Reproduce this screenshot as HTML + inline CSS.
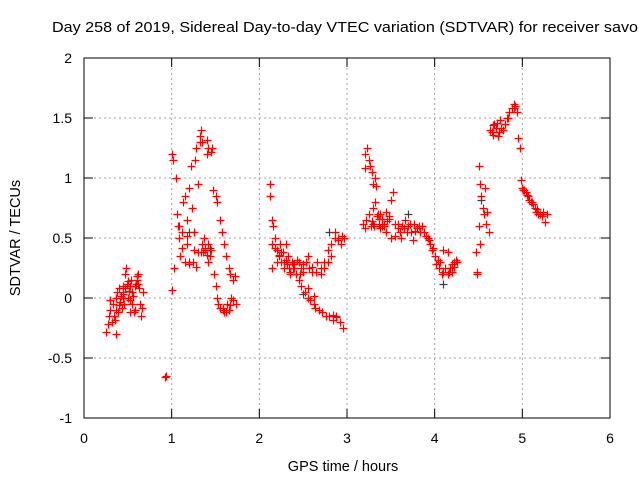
<!DOCTYPE html>
<html><head><meta charset="utf-8"><style>
body{margin:0;background:#fff;}
svg{display:block;font-family:"Liberation Sans",sans-serif;}
</style></head><body>
<svg id="chart" width="640" height="480">
<text x="52" y="32" font-size="15" textLength="586" lengthAdjust="spacingAndGlyphs">Day 258 of 2019, Sidereal Day-to-day VTEC variation (SDTVAR) for receiver savo</text>
<text x="343" y="471" font-size="14.5" text-anchor="middle">GPS time / hours</text>
<text x="0" y="0" font-size="14.5" text-anchor="middle" transform="translate(20,238) rotate(-90)">SDTVAR / TECUs</text>
<g id="grid"></g>
<g id="ticks"></g>
<g id="pts-gray"></g>
<g id="pts"></g>
<rect x="84" y="58" width="526" height="360" fill="none" stroke="#000" stroke-width="1"/>
</svg>
<script>
const xTicks=[0,1,2,3,4,5,6];
const yTicks=[-1,-0.5,0,0.5,1,1.5,2];
const yTickLabels=["-1","-0.5","0","0.5","1","1.5","2"];
const hours=[0.25,0.27,0.28,0.30,0.30,0.32,0.33,0.35,0.36,0.37,0.38,0.39,0.40,0.41,0.42,0.43,0.44,0.45,0.46,0.47,0.48,0.49,0.50,0.51,0.52,0.53,0.54,0.55,0.56,0.57,0.58,0.59,0.60,0.61,0.62,0.63,0.64,0.65,0.66,0.67,0.34,0.44,0.52,0.58,0.40,0.47,0.55,0.62,0.36,0.50,
0.92,0.93,
1.00,1.02,1.00,1.03,1.05,1.06,1.07,1.08,1.10,1.12,1.13,1.15,1.15,1.17,1.18,1.20,1.20,1.22,1.23,1.25,1.27,1.28,1.30,1.30,1.32,1.33,1.35,1.35,1.37,1.38,1.40,1.42,1.42,1.44,1.45,1.47,1.48,1.50,1.50,1.52,1.52,1.53,1.55,1.55,1.57,1.58,1.60,1.60,1.62,1.63,1.65,1.65,1.67,1.68,1.70,1.70,1.72,1.73,1.36,1.40,1.45,1.28,1.24,1.18,1.12,1.08,1.38,1.34,1.42,1.32,1.40,1.46,1.58,1.62,1.66,1.20,1.26,
2.12,2.12,2.14,2.16,2.15,2.18,2.20,2.22,2.24,2.25,2.27,2.28,2.30,2.32,2.33,2.35,2.37,2.38,2.40,2.42,2.43,2.45,2.47,2.48,2.50,2.52,2.53,2.55,2.57,2.58,2.60,2.62,2.64,2.66,2.68,2.70,2.72,2.74,2.76,2.78,2.80,2.82,2.84,2.86,2.88,2.90,2.92,2.94,2.96,2.97,2.15,2.20,2.25,2.30,2.35,2.45,2.55,2.78,2.82,2.86,2.90,2.93,2.18,2.22,2.28,2.34,2.40,2.50,2.60,2.65,2.70,2.74,2.62,2.56,2.46,2.38,2.88,2.84,
3.20,3.21,3.23,3.25,3.26,3.28,3.30,3.32,3.33,3.18,3.20,3.22,3.25,3.27,3.30,3.32,3.34,3.36,3.38,3.40,3.42,3.44,3.46,3.48,3.50,3.52,3.55,3.58,3.60,3.63,3.66,3.70,3.73,3.76,3.80,3.83,3.86,3.90,3.93,3.95,3.97,4.00,4.02,4.05,4.08,4.10,4.12,4.15,4.18,4.20,4.22,4.24,4.25,4.10,4.15,4.20,3.45,3.50,3.40,3.35,3.55,3.62,3.68,3.75,3.85,3.38,3.42,3.48,3.58,3.65,3.72,3.78,3.82,3.88,3.92,3.98,4.04,4.06,4.16,4.22,3.29,3.31,3.36,
4.47,4.48,4.50,4.50,4.52,4.53,4.55,4.56,4.58,4.60,4.62,4.48,4.52,4.57,4.63,4.65,4.68,4.70,4.72,4.75,4.78,4.80,4.82,4.85,4.88,4.90,4.92,4.94,4.95,4.97,4.98,5.00,5.02,5.04,5.06,5.08,5.10,5.12,5.14,5.16,5.18,5.20,5.22,5.24,5.26,5.28,4.67,4.73,4.66,4.71,4.76,4.84,4.91,5.01,5.05,5.11,5.17];
const values=[-0.28,-0.22,-0.15,-0.10,-0.02,-0.20,-0.05,-0.18,0.00,-0.30,0.05,-0.12,0.08,-0.03,0.02,-0.08,0.10,0.03,-0.05,0.20,0.25,0.12,0.00,0.06,-0.02,0.10,0.15,-0.05,0.02,-0.12,-0.10,0.12,0.15,0.18,0.20,0.08,-0.05,-0.15,-0.08,0.05,-0.15,0.0,-0.12,0.1,-0.06,0.08,0.05,0.12,-0.1,0.14,
-0.66,-0.65,
1.20,1.15,0.07,0.25,1.00,0.70,0.60,0.50,0.35,0.55,0.80,0.85,0.30,0.65,0.45,0.28,0.92,1.10,0.75,0.40,1.15,1.25,0.95,0.38,1.35,1.40,1.30,0.45,0.50,0.42,1.20,1.25,0.30,0.35,1.22,0.90,0.20,0.10,0.85,0.80,0.00,-0.05,0.65,-0.08,0.55,-0.10,0.45,-0.12,0.35,-0.05,0.25,-0.10,0.20,0.00,0.15,-0.02,0.18,-0.05,0.38,0.36,0.40,0.26,0.30,0.52,0.42,0.60,0.40,0.38,0.45,1.30,1.32,1.25,-0.08,-0.12,-0.06,0.30,0.55,
0.95,0.85,0.65,0.60,0.45,0.50,0.40,0.35,0.45,0.30,0.38,0.25,0.32,0.28,0.35,0.22,0.30,0.28,0.25,0.20,0.32,0.15,0.25,0.10,0.28,0.05,0.30,0.00,0.25,-0.02,0.22,-0.05,-0.08,0.30,-0.10,0.25,-0.12,0.30,-0.15,0.40,-0.15,0.45,-0.18,0.50,-0.15,0.48,-0.20,0.52,-0.25,0.50,0.25,0.30,0.38,0.45,0.20,0.30,0.35,0.30,0.35,0.55,0.50,0.45,0.42,0.36,0.30,0.25,0.28,0.22,0.26,0.22,0.20,0.25,0.02,0.08,0.20,0.25,-0.16,-0.14,
1.08,1.20,1.25,1.15,1.10,1.05,0.95,1.00,0.93,0.62,0.58,0.65,0.70,0.60,0.75,0.80,0.68,0.62,0.70,0.66,0.60,0.72,0.64,0.68,0.82,0.88,0.62,0.58,0.55,0.60,0.65,0.60,0.55,0.62,0.58,0.55,0.60,0.52,0.48,0.45,0.40,0.35,0.28,0.25,0.20,0.22,0.25,0.20,0.25,0.28,0.30,0.32,0.30,0.40,0.38,0.22,0.55,0.50,0.60,0.70,0.52,0.50,0.55,0.48,0.60,0.58,0.62,0.66,0.62,0.58,0.62,0.56,0.60,0.55,0.50,0.42,0.32,0.30,0.22,0.26,0.64,0.60,0.66,
0.38,0.20,1.10,0.60,0.95,0.85,0.75,0.70,0.62,0.72,0.55,0.22,0.45,0.92,1.40,1.38,1.45,1.42,1.35,1.48,1.40,1.45,1.50,1.55,1.58,1.62,1.60,1.55,1.33,1.25,0.98,0.92,0.90,0.88,0.85,0.82,0.80,0.78,0.75,0.72,0.70,0.70,0.68,0.72,0.63,0.70,1.44,1.38,1.36,1.46,1.42,1.50,1.58,0.90,0.86,0.80,0.74];
const grayHours=[0.30,0.45,1.20,1.44,2.50,2.80,3.30,3.70,4.10,4.53,4.80];
const grayValues=[-0.02,0.05,0.55,0.42,0.03,0.55,0.62,0.70,0.12,0.82,1.45];
const X=h=>84+h*526/6, Y=v=>298-v*120;
const NS="http://www.w3.org/2000/svg";
const g=document.getElementById('grid'), t=document.getElementById('ticks');
function mk(tag,attrs,parent){const e=document.createElementNS(NS,tag);for(const k in attrs)e.setAttribute(k,attrs[k]);parent.appendChild(e);return e;}
xTicks.forEach(v=>{
  const x=X(v);
  if(v>0&&v<6){const l=mk('line',{x1:x,y1:58,x2:x,y2:418,stroke:'#a0a0a0','stroke-dasharray':'2,3'},g);
  
  }
  mk('line',{x1:x,y1:418,x2:x,y2:409,stroke:'#000'},t);
  mk('line',{x1:x,y1:58,x2:x,y2:67,stroke:'#000'},t);
  const tx=mk('text',{x:x,y:443,'font-size':14,'text-anchor':'middle'},t);tx.textContent=v;
  
  
});
yTicks.forEach((v,i)=>{
  const y=Y(v);
  if(v>-1&&v<2){const l=mk('line',{x1:84,y1:y,x2:610,y2:y,stroke:'#a0a0a0','stroke-dasharray':'2,3'},g);
  
  }
  mk('line',{x1:84,y1:y,x2:93,y2:y,stroke:'#000'},t);
  mk('line',{x1:610,y1:y,x2:601,y2:y,stroke:'#000'},t);
  const tx=mk('text',{x:72,y:y+5,'font-size':14,'text-anchor':'end'},t);tx.textContent=yTickLabels[i];
  
  
});
function plus(h,v,col,parent){
  const x=Math.round(X(h))+0.5,y=Math.round(Y(v))+0.5;
  const p=mk('path',{d:`M${x-4} ${y}H${x+4}M${x} ${y-4}V${y+4}`,stroke:col,'stroke-width':1.2},parent);
  
  
}
grayHours.forEach((h,i)=>plus(h,grayValues[i],'#404040',document.getElementById('pts-gray')));
hours.forEach((h,i)=>plus(h,values[i],'#ff0000',document.getElementById('pts')));
</script>
</body></html>
